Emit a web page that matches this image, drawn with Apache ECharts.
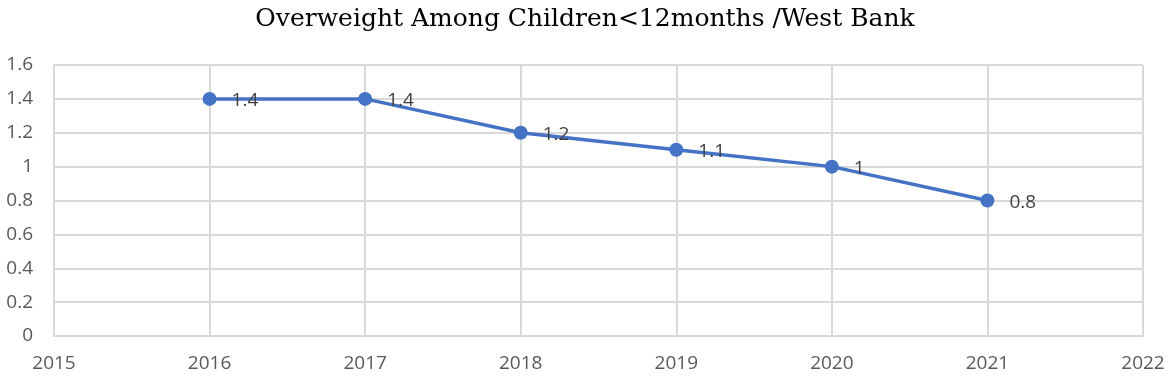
<!DOCTYPE html>
<html>
<head>
<meta charset="utf-8">
<script src="https://cdn.jsdelivr.net/npm/echarts@6/dist/echarts.min.js"></script>
<style>
  html, body { margin: 0; padding: 0; background: #fff; }
  #chart { width: 1170px; height: 378px; }
</style>
</head>
<body>
<div id="chart"></div>
<script>
const years = [2016, 2017, 2018, 2019, 2020, 2021];
const overweight = [1.4, 1.4, 1.2, 1.1, 1, 0.8];

const GRID = '#d9d9d9';
const LABEL = '#595959';

const chart = echarts.init(document.getElementById('chart'));
chart.setOption({
  backgroundColor: '#fff',
  animation: false,
  title: {
    text: 'Overweight Among Children<12months /West Bank',
    left: 'center',
    top: 2,
    textStyle: { fontFamily: 'DejaVu Serif', fontWeight: 'normal', fontSize: 25, color: '#000' },
  },
  grid: { left: 54, right: 27, top: 65, bottom: 42 },
  xAxis: {
    type: 'value',
    min: 2015,
    max: 2022,
    interval: 1,
    axisLine: { show: true, lineStyle: { color: GRID, width: 2 } },
    axisTick: { show: false },
    splitLine: { show: true, lineStyle: { color: GRID, width: 2 } },
    axisLabel: { color: LABEL, fontSize: 19, fontFamily: 'Open Sans', margin: 18, formatter: v => String(v) },
  },
  yAxis: {
    type: 'value',
    min: 0,
    max: 1.6,
    interval: 0.2,
    axisLine: { show: true, lineStyle: { color: GRID, width: 2 } },
    axisTick: { show: false },
    splitLine: { show: true, lineStyle: { color: GRID, width: 2 } },
    axisLabel: { color: LABEL, fontSize: 19, fontFamily: 'Open Sans', margin: 21, formatter: v => String(+v.toFixed(1)) },
  },
  series: [{
    type: 'line',
    data: years.map((y, i) => [y, overweight[i]]),
    symbol: 'circle',
    symbolSize: 14,
    lineStyle: { color: '#4472c4', width: 3.5 },
    itemStyle: { color: '#4472c4' },
    label: {
      show: true,
      position: 'right',
      distance: 15,
      offset: [0, 2],
      color: '#404040',
      fontSize: 19,
      fontFamily: 'Open Sans',
      formatter: p => String(p.value[1]),
    },
  }],
});
</script>
</body>
</html>
